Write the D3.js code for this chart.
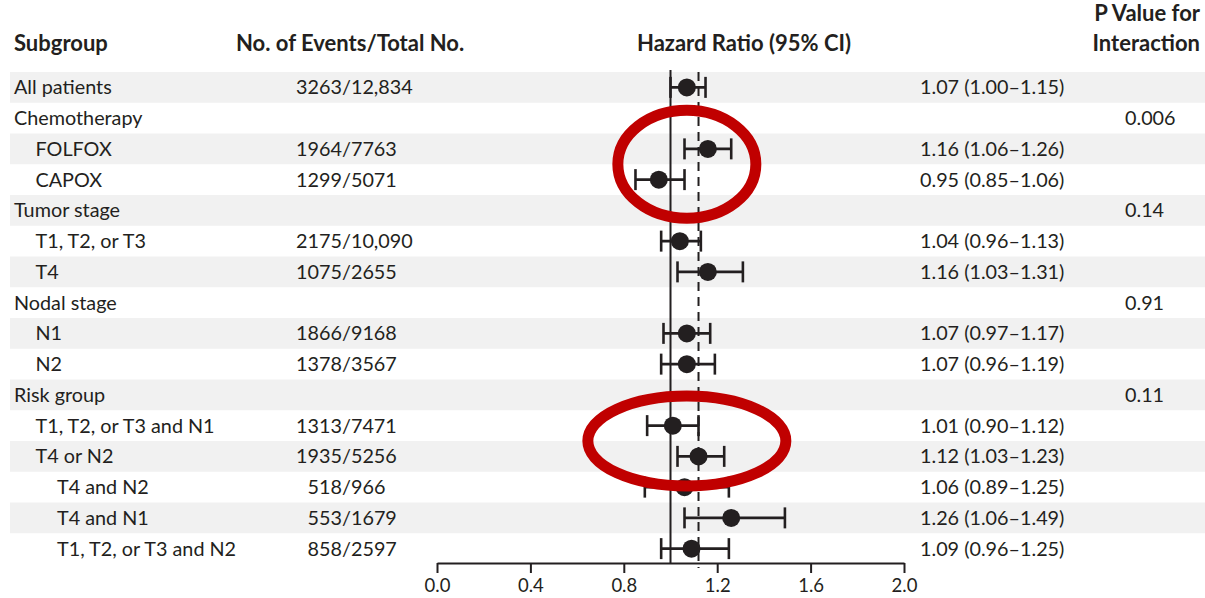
<!DOCTYPE html>
<head>
    <meta charset="utf-8">
    <script src="https://d3js.org/d3.v7.min.js"></script>
    <style>
        body { margin: 0; background: #fff; }
        svg { display: block; font-family: Lato, "Open Sans", sans-serif; }
        .txt { font-size: 19.8px; fill: #231f20; }
        .head { font-size: 22px; font-weight: bold; fill: #231f20; }
        .axis text { font-size: 18.5px; fill: #231f20; font-family: Lato, sans-serif; }
        .axis path, .axis line { stroke: #231f20; stroke-width: 2; }
    </style>
</head>
<body>
<script>
    var labels = ["All patients", "Chemotherapy", "FOLFOX", "CAPOX", "Tumor stage",
        "T1, T2, or T3", "T4", "Nodal stage", "N1", "N2", "Risk group",
        "T1, T2, or T3 and N1", "T4 or N2", "T4 and N2", "T4 and N1", "T1, T2, or T3 and N2"];
    var levels = [0, 0, 1, 1, 0, 1, 1, 0, 1, 1, 0, 1, 1, 2, 2, 2];
    var events = ["3263/12,834", "", "1964/7763", "1299/5071", "", "2175/10,090", "1075/2655", "",
        "1866/9168", "1378/3567", "", "1313/7471", "1935/5256", "518/966", "553/1679", "858/2597"];
    var hr = [1.07, null, 1.16, 0.95, null, 1.04, 1.16, null, 1.07, 1.07, null, 1.01, 1.12, 1.06, 1.26, 1.09];
    var lo = [1.00, null, 1.06, 0.85, null, 0.96, 1.03, null, 0.97, 0.96, null, 0.90, 1.03, 0.89, 1.06, 0.96];
    var hi = [1.15, null, 1.26, 1.06, null, 1.13, 1.31, null, 1.17, 1.19, null, 1.12, 1.23, 1.25, 1.49, 1.25];
    var pValues = ["", "0.006", "", "", "0.14", "", "", "0.91", "", "", "0.11", "", "", "", "", ""];
    var tickValues = [0, 0.4, 0.8, 1.2, 1.6, 2.0];
    var refLine = 1.12; // dashed line as drawn in the figure

    var ink = "#231f20";
    var rows = d3.range(labels.length);

    var svg = d3.select("body").append("svg")
        .attr("width", 1205)
        .attr("height", 598);

    var x = d3.scaleLinear().domain([0, 2]).range([437, 904]);
    var y = d3.scaleBand().domain(rows).range([72, 564]);
    var mid = function (i) { return y(i) + y.bandwidth() / 2; };

    // stripes
    svg.selectAll(".stripe")
        .data(rows.filter(function (i) { return i % 2 === 0; }))
        .enter().append("rect")
        .attr("class", "stripe")
        .attr("x", 10)
        .attr("y", function (i) { return y(i); })
        .attr("width", 1195)
        .attr("height", y.bandwidth())
        .attr("fill", "#f1f1f1");

    // headers
    svg.append("text").attr("class", "head").attr("x", 14).attr("y", 51).text("Subgroup");
    svg.append("text").attr("class", "head").attr("x", 236).attr("y", 51).text("No. of Events/Total No.");
    svg.append("text").attr("class", "head").attr("x", 744).attr("y", 51)
        .attr("text-anchor", "middle").text("Hazard Ratio (95% CI)");
    svg.append("text").attr("class", "head").attr("x", 1200).attr("y", 21)
        .attr("text-anchor", "end").text("P Value for");
    svg.append("text").attr("class", "head").attr("x", 1200).attr("y", 51)
        .attr("text-anchor", "end").text("Interaction");

    // subgroup labels
    svg.selectAll(".lab").data(rows).enter().append("text")
        .attr("class", "txt lab")
        .attr("x", function (i) { return 14 + levels[i] * 21.5; })
        .attr("y", function (i) { return mid(i) + 7; })
        .text(function (i) { return labels[i]; });

    // events, aligned on the slash
    var slashX = 342;
    var measure = svg.append("text").attr("class", "txt").attr("opacity", 0);
    svg.selectAll(".ev").data(rows.filter(function (i) { return events[i]; })).enter().append("text")
        .attr("class", "txt ev")
        .attr("x", function (i) {
            var num = events[i].split("/")[0];
            measure.text(num);
            return slashX - measure.node().getComputedTextLength();
        })
        .attr("y", function (i) { return mid(i) + 7; })
        .text(function (i) { return events[i]; });
    measure.remove();

    // reference lines
    svg.append("line")
        .attr("x1", x(1)).attr("x2", x(1))
        .attr("y1", 70).attr("y2", 564)
        .attr("stroke", ink).attr("stroke-width", 2);
    svg.append("line")
        .attr("x1", x(refLine)).attr("x2", x(refLine))
        .attr("y1", 72).attr("y2", 568)
        .attr("stroke", ink).attr("stroke-width", 2)
        .attr("stroke-dasharray", "9,6");

    var est = rows.filter(function (i) { return hr[i] !== null; });

    // CI whiskers
    var ci = svg.selectAll(".ci").data(est).enter().append("g").attr("class", "ci")
        .attr("stroke", ink).attr("stroke-width", 2.6);
    ci.append("line")
        .attr("x1", function (i) { return x(lo[i]); })
        .attr("x2", function (i) { return x(hi[i]); })
        .attr("y1", mid).attr("y2", mid);
    ci.append("line")
        .attr("x1", function (i) { return x(lo[i]); })
        .attr("x2", function (i) { return x(lo[i]); })
        .attr("y1", function (i) { return mid(i) - 10.5; })
        .attr("y2", function (i) { return mid(i) + 10.5; });
    ci.append("line")
        .attr("x1", function (i) { return x(hi[i]); })
        .attr("x2", function (i) { return x(hi[i]); })
        .attr("y1", function (i) { return mid(i) - 10.5; })
        .attr("y2", function (i) { return mid(i) + 10.5; });

    svg.selectAll(".dot").data(est).enter().append("circle")
        .attr("class", "dot")
        .attr("cx", function (i) { return x(hr[i]); })
        .attr("cy", mid)
        .attr("r", 9)
        .attr("fill", ink);

    // HR text
    var f = d3.format(".2f");
    svg.selectAll(".hrt").data(est).enter().append("text")
        .attr("class", "txt hrt")
        .attr("x", 920)
        .attr("y", function (i) { return mid(i) + 7; })
        .text(function (i) { return f(hr[i]) + " (" + f(lo[i]) + "\u2013" + f(hi[i]) + ")"; });

    // P values
    svg.selectAll(".pv").data(rows.filter(function (i) { return pValues[i]; })).enter().append("text")
        .attr("class", "txt pv")
        .attr("x", 1125)
        .attr("y", function (i) { return mid(i) + 7; })
        .text(function (i) { return pValues[i]; });

    // axis
    var axisG = svg.append("g")
        .attr("class", "axis")
        .attr("transform", "translate(0,563)")
        .call(d3.axisBottom(x).tickValues(tickValues).tickSize(10).tickSizeOuter(0)
            .tickFormat(d3.format(".1f")));
    axisG.selectAll("text").attr("y", 16);

    // red annotation ellipses
    svg.append("ellipse")
        .attr("cx", x(1.07)).attr("cy", y(3))
        .attr("rx", 69).attr("ry", 54)
        .attr("fill", "none").attr("stroke", "#c00000").attr("stroke-width", 11);
    svg.append("ellipse")
        .attr("cx", x(1.07)).attr("cy", y(12))
        .attr("rx", 99).attr("ry", 45)
        .attr("fill", "none").attr("stroke", "#c00000").attr("stroke-width", 11);
</script>
</body>
